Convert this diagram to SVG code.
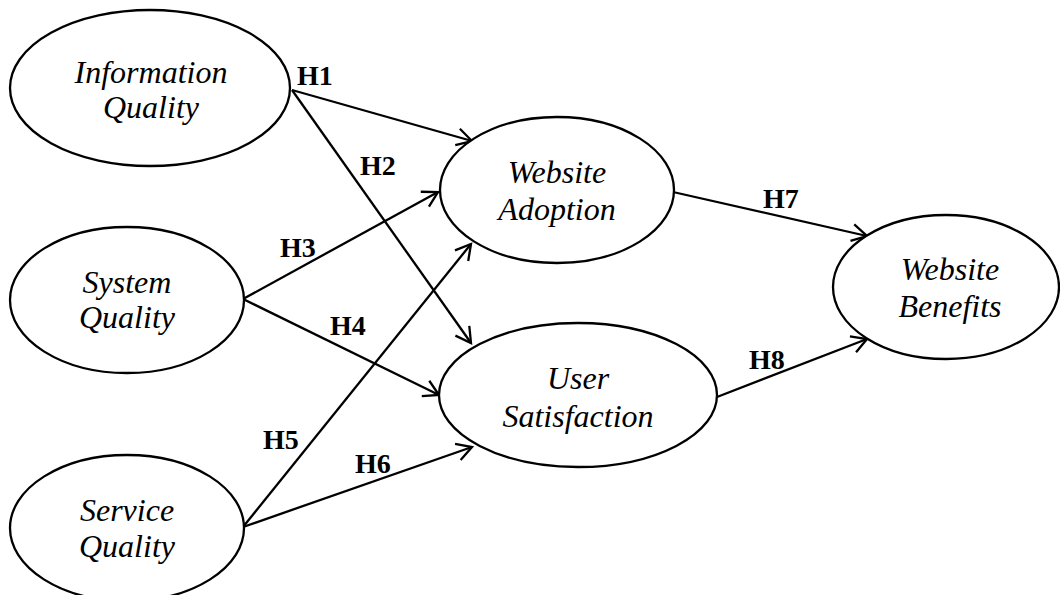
<svg xmlns="http://www.w3.org/2000/svg" width="1060" height="595" viewBox="0 0 1060 595">
  <style>
    .node ellipse { fill: #ffffff; stroke: #000000; stroke-width: 2.3; }
    .node text { font-family: "Liberation Serif", "Times New Roman", serif; font-style: italic; font-size: 32px; fill: #000000; text-anchor: middle; }
    .edge line { stroke: #000000; stroke-width: 2.3; fill: none; marker-end: url(#open-arrow); }
    .hyp { font-family: "Liberation Serif", "Times New Roman", serif; font-weight: bold; font-size: 28px; fill: #000000; }
  </style>
  <defs>
    <marker id="open-arrow" markerUnits="userSpaceOnUse" markerWidth="20" markerHeight="20" refX="0" refY="0" orient="auto" overflow="visible">
      <path d="M -15,-8.5 L 0,0 L -15,8.5" fill="none" stroke="#000000" stroke-width="2.3" stroke-linejoin="miter"/>
    </marker>
  </defs>
  <rect x="0" y="0" width="1060" height="595" fill="#ffffff"/>

  <!-- hypothesis paths -->
  <g id="connectors" class="edge">
    <line x1="292" y1="90" x2="472" y2="141"/>
    <line x1="292" y1="90" x2="471" y2="343"/>
    <line x1="243" y1="299" x2="438" y2="192"/>
    <line x1="243" y1="299" x2="439" y2="395"/>
    <line x1="243" y1="527" x2="471" y2="244"/>
    <line x1="243" y1="527" x2="472" y2="447"/>
    <line x1="673" y1="192" x2="867" y2="236"/>
    <line x1="717" y1="397" x2="867" y2="339"/>
  </g>

  <g id="hypothesis-labels">
    <text class="hyp" x="297" y="85">H1</text>
    <text class="hyp" x="360" y="175">H2</text>
    <text class="hyp" x="280" y="257">H3</text>
    <text class="hyp" x="330" y="335">H4</text>
    <text class="hyp" x="263" y="449">H5</text>
    <text class="hyp" x="355" y="473">H6</text>
    <text class="hyp" x="763" y="208">H7</text>
    <text class="hyp" x="749" y="369">H8</text>
  </g>

  <g id="information-quality" class="node">
    <ellipse cx="150" cy="88" rx="140" ry="78"/>
    <text x="151" y="83">Information</text>
    <text x="151" y="118">Quality</text>
  </g>

  <g id="system-quality" class="node">
    <ellipse cx="127" cy="300" rx="117" ry="73"/>
    <text x="127" y="293">System</text>
    <text x="127" y="328">Quality</text>
  </g>

  <g id="service-quality" class="node">
    <ellipse cx="127" cy="528" rx="117" ry="73"/>
    <text x="127" y="521">Service</text>
    <text x="127" y="557">Quality</text>
  </g>

  <g id="website-adoption" class="node">
    <ellipse cx="557" cy="190" rx="117" ry="73"/>
    <text x="557" y="183">Website</text>
    <text x="557" y="220">Adoption</text>
  </g>

  <g id="user-satisfaction" class="node">
    <ellipse cx="578" cy="395" rx="139" ry="72"/>
    <text x="578" y="389">User</text>
    <text x="578" y="427">Satisfaction</text>
  </g>

  <g id="website-benefits" class="node">
    <ellipse cx="946" cy="287" rx="113" ry="72"/>
    <text x="950" y="280">Website</text>
    <text x="950" y="317">Benefits</text>
  </g>
</svg>
